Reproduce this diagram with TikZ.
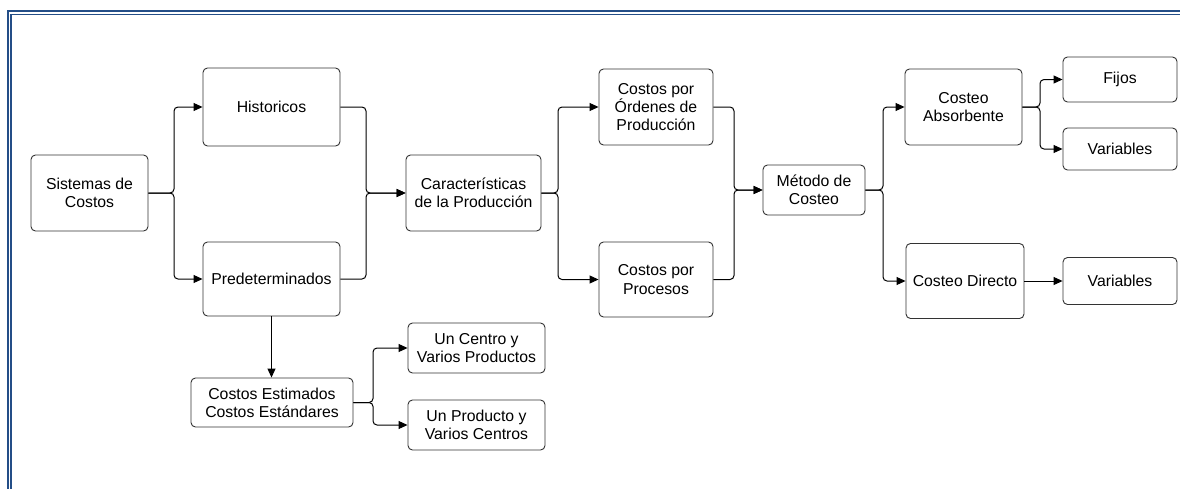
\documentclass[tikz,border=0pt]{standalone}
\usepackage{fontspec}
\setmainfont{Liberation Sans}
\usetikzlibrary{arrows.meta}
\definecolor{frameblue}{RGB}{36,78,135}
\tikzset{
  box/.style={draw=black!80, line width=0.9pt, rounded corners=4.5pt,
    align=center, inner sep=0pt, font=\fontsize{15.8}{18.3}\selectfont},
  conn/.style={line width=1pt, rounded corners=4pt,
    -{Triangle[length=9pt,width=8pt]}},
}
\begin{document}
\begin{tikzpicture}[x=1pt,y=-1pt]
\useasboundingbox (0,0) rectangle (1180,488);
\clip (0,0) rectangle (1180,488);
% double page frame
\draw[frameblue, line width=2.2pt] (7.7,11.2) rectangle (1200,510);
\draw[frameblue, line width=1.6pt] (10.9,14.4) rectangle (1200,510);

% boxes
\node[box, minimum width=117pt, minimum height=76pt] (sis) at (89.5,193) {Sistemas de\\Costos};
\node[box, minimum width=137pt, minimum height=78pt] (his) at (271.5,107) {Historicos};
\node[box, minimum width=137pt, minimum height=74pt] (pre) at (271.5,279) {Predeterminados};
\node[box, minimum width=135pt, minimum height=76pt] (car) at (473.5,193) {Características\\de la Producción};
\node[box, minimum width=114pt, minimum height=76pt] (ord) at (656,107) {Costos por\\Órdenes de\\Producción};
\node[box, minimum width=114pt, minimum height=75pt] (pro) at (656,279.5) {Costos por\\Procesos};
\node[box, minimum width=102pt, minimum height=50pt] (met) at (814,190) {Método de\\Costeo};
\node[box, minimum width=117pt, minimum height=76pt] (abs) at (963.5,107) {Costeo\\Absorbente};
\node[box, minimum width=118pt, minimum height=75pt] (dir) at (965,281) {Costeo Directo};
\node[box, minimum width=114pt, minimum height=45pt] (fij) at (1120,79.5) {Fijos};
\node[box, minimum width=114pt, minimum height=42pt] (var1) at (1120,149) {Variables};
\node[box, minimum width=114pt, minimum height=47pt] (var2) at (1120,281) {Variables};
\node[box, minimum width=162pt, minimum height=49pt] (est) at (272,402.5) {Costos Estimados\\Costos Estándares};
\node[box, minimum width=137pt, minimum height=50pt] (cen) at (476.5,348) {Un Centro y\\Varios Productos};
\node[box, minimum width=137pt, minimum height=50pt] (prd) at (476.5,425) {Un Producto y\\Varios Centros};

% branch and merge points
\coordinate (j1) at (174,193);
\coordinate (m1) at (366,193);
\coordinate (j2) at (558,193);
\coordinate (m2) at (734,190);
\coordinate (j3) at (883,190);
\coordinate (j4) at (1040,107);
\coordinate (j5) at (373,402.5);

% connectors
\draw[conn] (sis.east) -- (sis.east -| j1) |- (his.west);
\draw[conn] (sis.east) -- (sis.east -| j1) |- (pre.west);
\draw[conn] (his.east) -| (m1) -- (car.west);
\draw[conn] (pre.east) -| (m1) -- (car.west);
\draw[conn] (car.east) -- (car.east -| j2) |- (ord.west);
\draw[conn] (car.east) -- (car.east -| j2) |- (pro.west);
\draw[conn] (ord.east) -| (m2) -- (met.west);
\draw[conn] (pro.east) -| (m2) -- (met.west);
\draw[conn] (met.east) -- (met.east -| j3) |- (abs.west);
\draw[conn] (met.east) -- (met.east -| j3) |- (dir.west);
\draw[conn] (abs.east) -- (abs.east -| j4) |- (fij.west);
\draw[conn] (abs.east) -- (abs.east -| j4) |- (var1.west);
\draw[conn] (dir.east) -- (var2.west);
\draw[conn] (pre.south) -- (pre.south |- est.north);
\draw[conn] (est.east) -- (est.east -| j5) |- (cen.west);
\draw[conn] (est.east) -- (est.east -| j5) |- (prd.west);
\end{tikzpicture}
\end{document}
